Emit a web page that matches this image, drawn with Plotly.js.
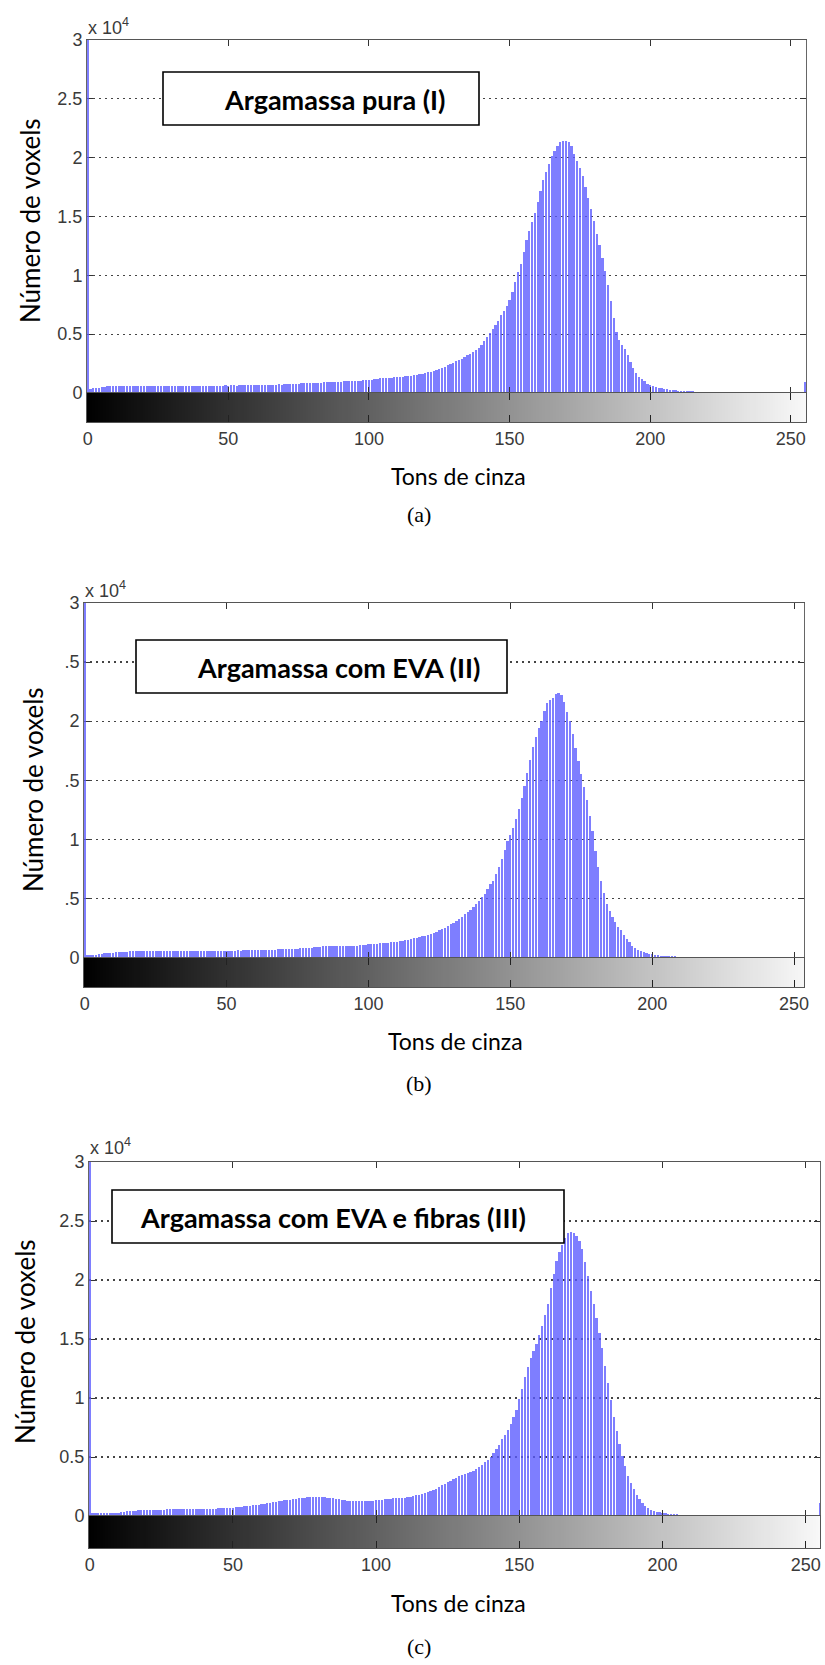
<!DOCTYPE html>
<html>
<head>
<meta charset="utf-8">
<script src="https://cdn.plot.ly/plotly-3.0.1.min.js"></script>
<style>
html,body{margin:0;padding:0;background:#fff;}
#chart{width:825px;height:1665px;}
</style>
</head>
<body>
<div id="chart"></div>
<script>
// Gray levels (histogram bins)
const grayLevels = Array.from({length: 256}, (_, i) => i);

// Voxel counts per gray level, panel (a) Argamassa pura (I)
const countsA = [
  60000, 350, 400, 420, 450, 470, 500, 560, 580, 590,
  600, 590, 600, 610, 600, 590, 600, 610, 600, 590,
  580, 600, 590, 570, 580, 590, 600, 590, 580, 590,
  600, 590, 570, 600, 610, 600, 590, 600, 590, 560,
  590, 600, 610, 600, 620, 610, 600, 620, 630, 640,
  620, 650, 640, 630, 650, 660, 640, 650, 660, 670,
  680, 670, 680, 690, 700, 710, 700, 720, 730, 720,
  740, 750, 760, 780, 790, 800, 820, 830, 840, 850,
  870, 880, 880, 890, 900, 910, 920, 930, 940, 950,
  960, 980, 990, 1000, 1010, 1030, 1040, 1060, 1080, 1090,
  1100, 1120, 1150, 1180, 1250, 1260, 1280, 1300, 1310, 1330,
  1350, 1370, 1400, 1420, 1440, 1480, 1500, 1550, 1600, 1650,
  1700, 1760, 1820, 1880, 1950, 2050, 2150, 2250, 2350, 2450,
  2560, 2680, 2800, 2930, 3050, 3200, 3350, 3500, 3680, 3850,
  4050, 4400, 4750, 5100, 5450, 5800, 6150, 6600, 7000, 7400,
  7900, 8600, 9400, 10300, 11000, 12000, 13000, 13800, 14500, 15300,
  16200, 17200, 18100, 18800, 19500, 20100, 20600, 21000, 21300, 21400,
  21400, 21300, 21000, 20300, 19700, 19100, 18400, 17500, 16600, 15600,
  14600, 13500, 12600, 11500, 10400, 9200, 7800, 6400, 5200, 4500,
  4100, 3700, 3200, 2600, 2100, 1700, 1400, 1200, 1000, 800,
  700, 600, 500, 450, 400, 350, 300, 280, 250, 220,
  200, 180, 160, 150, 140, 130, 120, 110, 100, 0,
  0, 0, 0, 0, 0, 0, 0, 0, 0, 0,
  0, 0, 0, 0, 0, 0, 0, 0, 0, 0,
  0, 0, 0, 0, 0, 0, 0, 0, 0, 0,
  0, 0, 0, 0, 0, 900
];

// Panel (b) Argamassa com EVA (II)
const countsB = [
  60000, 180, 200, 220, 250, 280, 330, 370, 400, 410,
  420, 440, 450, 470, 490, 500, 520, 540, 550, 560,
  570, 560, 580, 570, 560, 570, 560, 550, 560, 570,
  560, 550, 560, 550, 560, 550, 560, 570, 560, 550,
  560, 550, 560, 570, 560, 550, 560, 570, 560, 570,
  580, 560, 580, 590, 600, 590, 610, 600, 620, 610,
  620, 630, 620, 640, 630, 650, 640, 660, 680, 690,
  700, 700, 710, 730, 750, 760, 770, 780, 790, 800,
  820, 850, 880, 910, 940, 950, 950, 960, 960, 970,
  960, 970, 980, 970, 980, 990, 1000, 1020, 1050, 1080,
  1120, 1150, 1170, 1180, 1190, 1200, 1220, 1250, 1280, 1310,
  1350, 1380, 1420, 1460, 1510, 1560, 1620, 1680, 1740, 1800,
  1860, 1920, 2000, 2100, 2200, 2300, 2400, 2500, 2650, 2800,
  2950, 3100, 3300, 3450, 3650, 3850, 4050, 4250, 4500, 4800,
  5100, 5400, 5800, 6200, 6500, 7100, 7700, 8300, 9100, 9900,
  10400, 11000, 11700, 12600, 13500, 14500, 15600, 16700, 17800, 18700,
  19400, 20000, 20900, 21500, 21800, 22000, 22300, 22400, 22200, 21600,
  20800, 20000, 18900, 17700, 16600, 15500, 14400, 13300, 12000, 10700,
  9000, 7700, 6500, 5500, 4500, 3900, 3400, 3000, 2600, 2300,
  1900, 1550, 1300, 1000, 800, 650, 520, 430, 360, 300,
  260, 220, 190, 160, 140, 120, 110, 100, 90, 80,
  70, 60, 0, 0, 0, 0, 0, 0, 0, 0,
  0, 0, 0, 0, 0, 0, 0, 0, 0, 0,
  0, 0, 0, 0, 0, 0, 0, 0, 0, 0,
  0, 0, 0, 0, 0, 0, 0, 0, 0, 0,
  0, 0, 0, 0, 0, 700
];

// Panel (c) Argamassa com EVA e fibras (III)
const countsC = [
  60000, 220, 230, 230, 220, 240, 230, 240, 230, 250,
  260, 300, 380, 400, 410, 400, 420, 470, 490, 500,
  490, 510, 500, 500, 520, 510, 540, 580, 590, 600,
  590, 600, 610, 600, 590, 600, 610, 600, 620, 610,
  620, 630, 620, 610, 630, 660, 680, 690, 700, 690,
  710, 740, 780, 800, 820, 850, 870, 900, 920, 950,
  990, 1030, 1070, 1110, 1150, 1190, 1240, 1280, 1320, 1350,
  1390, 1420, 1460, 1490, 1520, 1550, 1580, 1610, 1640, 1650,
  1620, 1640, 1600, 1560, 1540, 1500, 1470, 1420, 1380, 1320,
  1290, 1280, 1270, 1280, 1290, 1300, 1300, 1290, 1300, 1310,
  1320, 1330, 1380, 1420, 1450, 1480, 1500, 1510, 1520, 1530,
  1550, 1600, 1650, 1700, 1750, 1800, 1860, 1930, 2000, 2100,
  2200, 2300, 2450, 2600, 2750, 2900, 3000, 3100, 3200, 3350,
  3450, 3550, 3650, 3750, 3850, 4000, 4150, 4350, 4550, 4750,
  5000, 5300, 5650, 6050, 6500, 6900, 7300, 7800, 8400, 9000,
  9900, 10800, 11800, 12600, 13400, 14000, 14600, 15300, 16100, 17000,
  18000, 19300, 20500, 21600, 22400, 23000, 23600, 24000, 24100, 24000,
  23700, 23300, 22600, 21500, 20300, 19100, 18000, 16800, 15500, 14200,
  12700, 11300, 9800, 8400, 7200, 6100, 5100, 4200, 3400, 2800,
  2300, 1800, 1400, 1100, 850, 680, 550, 450, 380, 320,
  270, 230, 200, 170, 150, 130, 110, 100, 90, 80,
  70, 60, 50, 40, 0, 0, 0, 0, 0, 0,
  0, 0, 0, 0, 0, 0, 0, 0, 0, 0,
  0, 0, 0, 0, 0, 0, 0, 0, 0, 0,
  0, 0, 0, 0, 0, 0, 0, 0, 0, 0,
  0, 0, 0, 0, 0, 1100
];

const yTickVals = [0, 5000, 10000, 15000, 20000, 25000, 30000];
const yTickTextFull = ['0', '0.5', '1', '1.5', '2', '2.5', '3'];
const yTickTextCropped = ['0', '.5', '1', '.5', '2', '.5', '3'];
const xTickVals = [0, 50, 100, 150, 200, 250];
const panelLabels = ['Argamassa pura (I)', 'Argamassa com EVA (II)', 'Argamassa com EVA e fibras (III)'];
const captions = ['(a)', '(b)', '(c)'];
const yTitle = 'Número de voxels';
const xTitle = 'Tons de cinza';
const multiplier = 'x 10<sup>4</sup>';

// ---- layout geometry (pixels) ----
const W = 825, H = 1665;
const X = px => px / W;
const Y = py => 1 - py / H;

const panels = [
  {counts: countsA, ticks: yTickTextFull, l: 87, r: 806, top: 40, zero: 393, bot: 422, xmax: 255.4,
   box: [163, 72, 479, 125], tx: 222, ty: 99, ylab: [30, 221], mult: [86, 26], tons: [458, 476], cap: [419, 514]},
  {counts: countsB, ticks: yTickTextCropped, l: 84, r: 804, top: 603, zero: 957.5, bot: 987, xmax: 253.5,
   box: [136, 640, 507, 693], tx: 195, ty: 667, ylab: [33, 790], mult: [83, 589], tons: [455, 1041], cap: [419, 1083]},
  {counts: countsC, ticks: yTickTextFull, l: 89, r: 820, top: 1162, zero: 1516, bot: 1548, xmax: 255.0,
   box: [112, 1190, 564, 1243], tx: 138, ty: 1217, ylab: [25, 1342], mult: [88, 1146], tons: [458, 1603], cap: [419, 1646]}
];

const tickFont = {family: 'Liberation Sans, Arial, sans-serif', size: 18, color: '#3a3a3a'};
const labelFont = {family: 'Lato, Open Sans, sans-serif', size: 26, color: '#000'};

const traces = [];
const layout = {
  width: W, height: H,
  margin: {l: 0, r: 0, t: 0, b: 0},
  paper_bgcolor: '#fff', plot_bgcolor: 'rgba(0,0,0,0)',
  showlegend: false,
  bargap: 0,
  shapes: [], annotations: []
};

panels.forEach((p, i) => {
  const hx = 'x' + (2 * i + 1), hy = 'y' + (2 * i + 1);
  const gx = 'x' + (2 * i + 2), gy = 'y' + (2 * i + 2);
  const key = s => s.replace(/^x/, 'xaxis').replace(/^y/, 'yaxis');
  const xdom = [X(p.l), X(p.r)];

  traces.push({
    type: 'bar', x: grayLevels, y: p.counts, xaxis: hx, yaxis: hy,
    width: 0.8, marker: {color: 'rgba(90,90,255,0.78)', line: {width: 0}},
    hoverinfo: 'skip'
  });
  traces.push({
    type: 'heatmap', x: grayLevels, y: [0], z: [grayLevels], xaxis: gx, yaxis: gy,
    colorscale: [[0, '#000000'], [1, '#f8f8f8']], showscale: false, hoverinfo: 'skip',
    zmin: 0, zmax: 255
  });

  layout[key(hx)] = {
    domain: xdom, anchor: hy, range: [-0.25, p.xmax],
    tickvals: xTickVals, showticklabels: false, ticks: 'inside', ticklen: 6,
    tickcolor: '#333', mirror: 'ticks', showline: true, linecolor: '#555', linewidth: 1,
    showgrid: false, zeroline: false, fixedrange: true
  };
  layout[key(hy)] = {
    domain: [Y(p.zero), Y(p.top)], anchor: hx, range: [0, 30000],
    tickvals: yTickVals, ticktext: p.ticks, tickfont: tickFont,
    ticks: 'inside', ticklen: 6, tickcolor: '#333', mirror: 'ticks',
    showline: true, linecolor: '#666', linewidth: 1,
    showgrid: true, gridcolor: '#444', griddash: '2px,4px', gridwidth: 1.2,
    zeroline: false, layer: 'below traces', fixedrange: true
  };
  layout[key(gx)] = {
    domain: xdom, anchor: gy, range: [-0.25, p.xmax],
    tickvals: xTickVals, tickfont: tickFont, ticks: 'inside', ticklen: 7,
    tickcolor: '#222', mirror: 'ticks', showline: true, linecolor: '#555', linewidth: 1,
    showgrid: false, zeroline: false, fixedrange: true
  };
  layout[key(gy)] = {
    domain: [Y(p.bot), Y(p.zero)], anchor: gx, range: [-0.5, 0.5],
    showticklabels: false, ticks: '', showline: true, linecolor: '#555', mirror: true,
    showgrid: false, zeroline: false, fixedrange: true
  };

  // label box
  layout.shapes.push({
    type: 'rect', xref: 'paper', yref: 'paper',
    x0: X(p.box[0]), x1: X(p.box[2]), y0: Y(p.box[3]), y1: Y(p.box[1]),
    line: {color: '#000', width: 1.6}, fillcolor: '#fff', layer: 'above'
  });
  layout.annotations.push({
    xref: 'paper', yref: 'paper', x: X(p.tx), y: Y(p.ty), xanchor: 'left', yanchor: 'middle',
    text: '<b>' + panelLabels[i] + '</b>', showarrow: false,
    font: {family: 'Lato, Open Sans, sans-serif', size: 27, color: '#000'}
  });
  layout.annotations.push({
    xref: 'paper', yref: 'paper', x: X(p.ylab[0]), y: Y(p.ylab[1]), xanchor: 'center', yanchor: 'middle',
    text: yTitle, textangle: -90, showarrow: false, font: labelFont
  });
  layout.annotations.push({
    xref: 'paper', yref: 'paper', x: X(p.mult[0]), y: Y(p.mult[1]), xanchor: 'left', yanchor: 'middle',
    text: multiplier, showarrow: false,
    font: {family: 'Liberation Sans, Arial, sans-serif', size: 18, color: '#3a3a3a'}
  });
  layout.annotations.push({
    xref: 'paper', yref: 'paper', x: X(p.tons[0]), y: Y(p.tons[1]), xanchor: 'center', yanchor: 'middle',
    text: xTitle, showarrow: false, font: {family: 'Lato, Open Sans, sans-serif', size: 23, color: '#000'}
  });
  layout.annotations.push({
    xref: 'paper', yref: 'paper', x: X(p.cap[0]), y: Y(p.cap[1]), xanchor: 'center', yanchor: 'middle',
    text: captions[i], showarrow: false,
    font: {family: 'Liberation Serif, Times New Roman, serif', size: 22, color: '#000'}
  });
});

Plotly.newPlot('chart', traces, layout, {displayModeBar: false, staticPlot: true});
</script>
</body>
</html>
